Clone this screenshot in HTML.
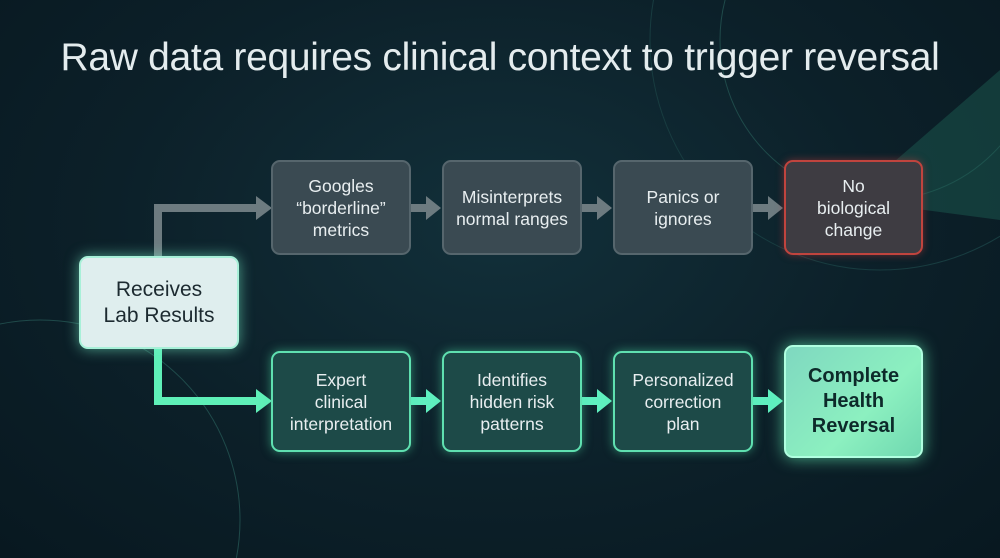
<!DOCTYPE html>
<html style="width:1000px;height:558px;overflow:hidden"><head><meta charset="utf-8"><style>
html,body{margin:0;padding:0}
body{width:1000px;height:558px;overflow:hidden;position:relative;font-family:"Liberation Sans",sans-serif;
background:radial-gradient(ellipse at 50% 40%,#12303a 0%,#0c2029 55%,#081820 100%);}
.t{position:absolute;left:0;width:1000px;top:36px;text-align:center;color:#e4ecee;font-size:39px;letter-spacing:-0.3px;white-space:nowrap}
.b{position:absolute;box-sizing:border-box;border-radius:9px;display:flex;align-items:center;justify-content:center;text-align:center;font-size:17.5px;line-height:22px;color:#e8eef0}
.g{background:#3a4a52;border:2px solid #56666d;}
.gr{background:#1d4a48;border:2px solid #5fe0b0;box-shadow:0 0 10px rgba(80,230,170,.5);}
</style></head><body>
<svg width="1000" height="558" style="position:absolute;left:0;top:0;display:block">
<circle cx="880" cy="40" r="160" fill="none" stroke="#1f4a4a" stroke-width="1"/>
<circle cx="880" cy="40" r="230" fill="none" stroke="#183c40" stroke-width="1"/>
<circle cx="40" cy="520" r="200" fill="none" stroke="#1f4a4a" stroke-width="1"/>
<polygon points="1000,70 1000,220 850,200" fill="#1c5a50" opacity=".5"/>
<path d="M158 256 V208 H258" fill="none" stroke="#6d7b80" stroke-width="8"/>
<polygon points="256,196 272,208 256,220" fill="#6d7b80"/>
<path d="M158 349 V401 H258" fill="none" stroke="#5ff0b8" stroke-width="8"/>
<polygon points="256,389 272,401 256,413" fill="#5ff0b8"/>
<g fill="#6d7b80">
<rect x="410" y="204" width="18" height="8"/><polygon points="426,196 441,208 426,220"/>
<rect x="581" y="204" width="18" height="8"/><polygon points="597,196 612,208 597,220"/>
<rect x="752" y="204" width="18" height="8"/><polygon points="768,196 783,208 768,220"/>
</g>
<g fill="#5ff0c0">
<rect x="410" y="397" width="18" height="8"/><polygon points="426,389 441,401 426,413"/>
<rect x="581" y="397" width="18" height="8"/><polygon points="597,389 612,401 597,413"/>
<rect x="752" y="397" width="18" height="8"/><polygon points="768,389 783,401 768,413"/>
</g>
</svg>
<div class="t">Raw data requires clinical context to trigger reversal</div>
<div class="b" style="left:79px;top:256px;width:160px;height:93px;background:#dfeeee;border:2px solid #a8f0d8;box-shadow:0 0 14px rgba(120,240,200,.6);color:#1c2a30;font-size:21px;line-height:26px">Receives<br>Lab Results</div>
<div class="b g" style="left:271px;top:160px;width:140px;height:95px">Googles<br>“borderline”<br>metrics</div>
<div class="b g" style="left:442px;top:160px;width:140px;height:95px">Misinterprets<br>normal ranges</div>
<div class="b g" style="left:613px;top:160px;width:140px;height:95px">Panics or<br>ignores</div>
<div class="b" style="left:784px;top:160px;width:139px;height:95px;background:#3e3c42;border:2px solid #c0443e;box-shadow:0 0 8px rgba(200,60,60,.5)">No<br>biological<br>change</div>
<div class="b gr" style="left:271px;top:351px;width:140px;height:101px">Expert<br>clinical<br>interpretation</div>
<div class="b gr" style="left:442px;top:351px;width:140px;height:101px">Identifies<br>hidden risk<br>patterns</div>
<div class="b gr" style="left:613px;top:351px;width:140px;height:101px">Personalized<br>correction<br>plan</div>
<div class="b" style="left:784px;top:345px;width:139px;height:113px;background:linear-gradient(135deg,#7fd8c0,#8cf0c0 60%,#6fd8b0);border:2px solid #b0ffe0;box-shadow:0 0 16px rgba(100,240,180,.7);color:#0d2a2a;font-weight:bold;font-size:20px;line-height:25px">Complete<br>Health<br>Reversal</div>
</body></html>
